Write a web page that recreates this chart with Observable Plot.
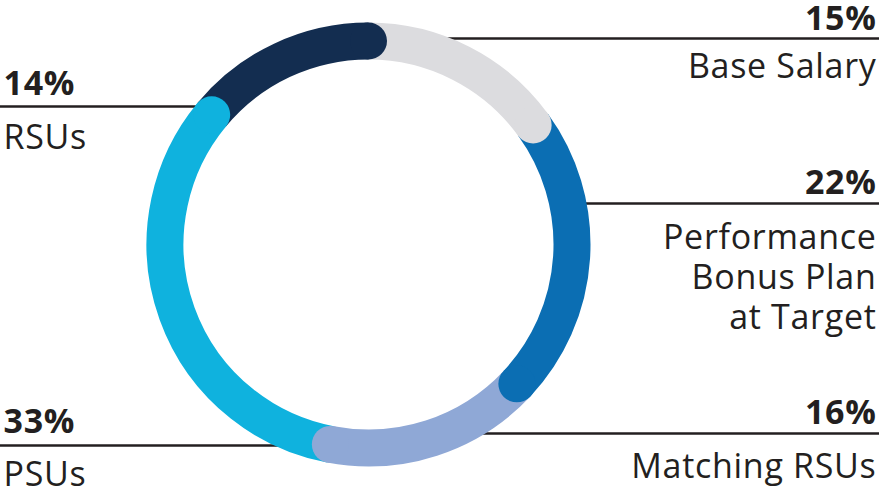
<!DOCTYPE html>
<html>
<head>
<meta charset="utf-8">
<script src="https://cdn.jsdelivr.net/npm/d3@7"></script>
<script src="https://cdn.jsdelivr.net/npm/@observablehq/plot@0.6"></script>
<style>
  html, body { margin: 0; padding: 0; background: #ffffff; }
  #chart svg { display: block; }
  #chart svg text { letter-spacing: 0.7px; }
</style>
</head>
<body>
<div id="chart"></div>
<script>
// ---- data ----
const categories = ["Base Salary", "Performance Bonus Plan at Target", "Matching RSUs", "PSUs", "RSUs"];
const values = [15, 22, 16, 33, 14];
const labelText = ["Base Salary", "Performance\nBonus Plan\nat Target", "Matching RSUs", "PSUs", "RSUs"];

// ---- styles ----
const colors = ["#dcdcdf", "#0b6eb3", "#8fa8d6", "#0fb2de", "#132d50"];
const ink = "#231f20";

// ---- layout (pixels) ----
const W = 879, H = 493;
const cx = 368, cy = 244, outerR = 222, ringW = 37;
const midR = outerR - ringW / 2;
const side = ["right", "right", "right", "left", "left"];
const leaderY = [38, 203, 433, 445, 106];
const leaderInnerX = [445, 575, 470, 290, 210];
const pctBaseline = [29, 193, 423, 432, 94];
const nameBaseline = [77, 328, 477, 485, 148];
const rightTextX = 876, leftTextX = 3;
const fontSize = 34, lineH = 40;

const total = d3.sum(values);
let acc = 0;
const rows = categories.map((c, i) => {
  const a0 = acc / total * 2 * Math.PI;
  acc += values[i];
  const a1 = acc / total * 2 * Math.PI;
  return {
    category: c,
    value: values[i],
    color: colors[i],
    x1: cx + midR * Math.sin(a0), y1: cy - midR * Math.cos(a0),
    x2: cx + midR * Math.sin(a1), y2: cy - midR * Math.cos(a1),
    bend: (a1 - a0) / 2 * 180 / Math.PI,
    side: side[i],
    ly: leaderY[i],
    lxInner: leaderInnerX[i],
    lxOuter: side[i] === "right" ? W : 0,
    tx: side[i] === "right" ? rightTextX : leftTextX,
    pctY: pctBaseline[i],
    nameY: nameBaseline[i],
    pct: values[i] + "%",
    name: labelText[i]
  };
});

const right = rows.filter(d => d.side === "right");
const left = rows.filter(d => d.side === "left");

// one arc per segment (bend is a constant option of the arrow mark)
const arcs = rows.map(d => Plot.arrow([d], {
  x1: "x1", y1: "y1", x2: "x2", y2: "y2",
  bend: d.bend,
  stroke: "color", strokeWidth: ringW, headLength: 0,
  strokeLinecap: "butt", strokeLinejoin: "miter"
}));

const chart = Plot.plot({
  width: W,
  height: H,
  margin: 0,
  x: {domain: [0, W], range: [0, W], axis: null},
  y: {domain: [0, H], range: [0, H], axis: null},
  color: {type: "identity"},
  style: {fontFamily: "'Open Sans', sans-serif", background: "#ffffff", color: ink},
  marks: [
    Plot.ruleY(rows, {y: "ly", x1: "lxInner", x2: "lxOuter", stroke: ink, strokeWidth: 2.6}),
    ...arcs,
    Plot.dot(rows, {x: "x2", y: "y2", r: ringW / 2, fill: "color", stroke: null}),
    Plot.text(right, {x: "tx", y: "pctY", text: "pct", textAnchor: "end", lineAnchor: "bottom", fontSize, fontWeight: "bold", fill: ink}),
    Plot.text(right, {x: "tx", y: "nameY", text: "name", textAnchor: "end", lineAnchor: "bottom", fontSize, lineHeight: lineH / fontSize, fill: ink}),
    Plot.text(left, {x: "tx", y: "pctY", text: "pct", textAnchor: "start", lineAnchor: "bottom", fontSize, fontWeight: "bold", fill: ink}),
    Plot.text(left, {x: "tx", y: "nameY", text: "name", textAnchor: "start", lineAnchor: "bottom", fontSize, fill: ink})
  ]
});
document.getElementById("chart").appendChild(chart);
</script>
</body>
</html>
